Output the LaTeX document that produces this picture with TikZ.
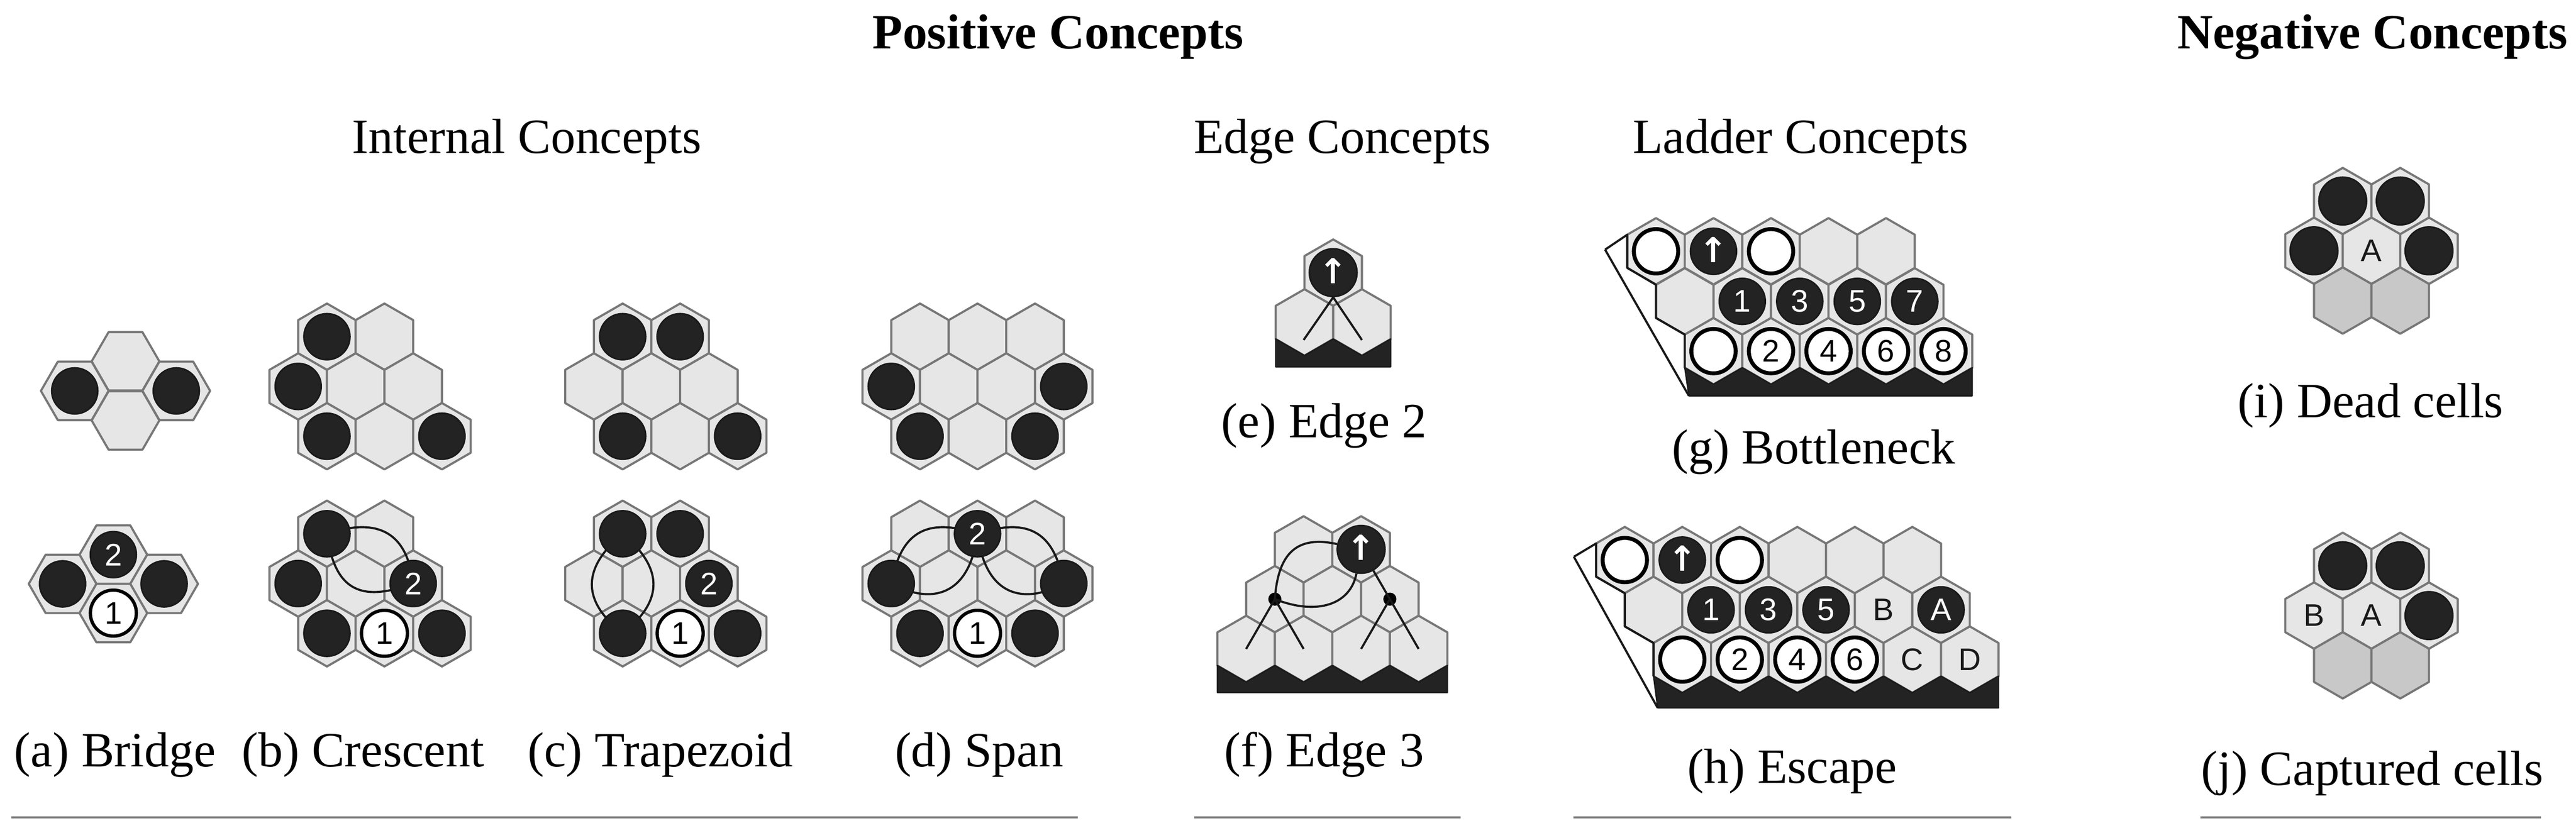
\documentclass[tikz,border=0pt]{standalone}
\usepackage{fontspec}
\setmainfont{Liberation Serif}
\newfontfamily\lsans{Liberation Sans}
\newfontfamily\djv{DejaVu Sans}
\usetikzlibrary{arrows.meta}
\definecolor{hexl}{HTML}{E6E6E6}
\definecolor{hexg}{HTML}{C8C8C8}
\definecolor{hexe}{HTML}{777777}
\definecolor{stone}{HTML}{232323}
\definecolor{stoneE}{HTML}{1A1A1A}
\tikzset{
 hexc/.style={fill=hexl,draw=hexe,line width=1.3pt,line join=round},
 hexd/.style={fill=hexg,draw=hexe,line width=1.3pt,line join=round},
 bs/.style={circle,fill=stone,draw=stoneE,line width=1pt,minimum size=28pt,inner sep=0pt,text=white,font=\lsans\fontsize{19}{19}\selectfont},
 ws/.style={bs,fill=white,draw=black,line width=2pt,text=black},
 lbs/.style={bs,minimum size=28pt},
 lws/.style={ws,minimum size=27pt,line width=2.4pt},
 lab/.style={inner sep=0pt,font=\lsans\fontsize{19}{19}\selectfont,text=black!90},
 dot/.style={circle,fill=black,minimum size=8pt,inner sep=0pt},
 link/.style={draw=black!90,line width=1.3pt},
 band/.style={fill=stone,draw=stoneE,line width=0.8pt,line join=round},
 edgeline/.style={draw=black!90,line width=1.3pt,line join=round},
 capt/.style={anchor=base,inner sep=0pt,font=\fontsize{30}{30}\selectfont},
 ttl/.style={capt,font=\bfseries\fontsize{30}{30}\selectfont},
 rule/.style={draw=hexe,line width=1.3pt},
 up/.style={font=\djv\bfseries\fontsize{21}{21}\selectfont}
}
\newcommand\hx[3][hexc]{\draw[#1,shift={(#2,#3)}] (0,-20.2)--(17.5,-10.1)--(17.5,10.1)--(0,20.2)--(-17.5,10.1)--(-17.5,-10.1)--cycle;}
\newcommand\hf[2]{\draw[hexc,shift={(#1,#2)}] (-20.6,0)--(-10.3,-17.8)--(10.3,-17.8)--(20.6,0)--(10.3,17.8)--(-10.3,17.8)--cycle;}
\begin{document}
\begin{tikzpicture}[x=1pt,y=-1pt]
\useasboundingbox (0,0) rectangle (1568,510);
% titles
\node[ttl] (tpos) at (644,29.5) {Positive Concepts};
\node[ttl] (tneg) at (1444,29.5) {Negative Concepts};
\node[capt] (tint) at (320.7,93.4) {Internal Concepts};
\node[capt] (tedg) at (817,93.4) {Edge Concepts};
\node[capt] (tlad) at (1096,93.4) {Ladder Concepts};
% rules
\draw[rule] (7,497.7)--(656,497.7);
\draw[rule] (727,497.7)--(889,497.7);
\draw[rule] (957.6,497.7)--(1224.4,497.7);
\draw[rule] (1339.5,497.7)--(1546.7,497.7);
% ---------- (a) Bridge
\hf{76.4}{220}\hf{45.5}{238}\hf{107.3}{238}\hf{76.4}{256}
\node[bs] (a1) at (45.5,238) {};
\node[bs] (a2) at (107.3,238) {};
\hf{69}{337.7}\hf{38.1}{355.5}\hf{99.9}{355.5}\hf{69}{373.3}
\node[bs] (a3) at (38.1,355.5) {};
\node[bs] (a4) at (99.9,355.5) {};
\node[bs] (a5) at (69,337.7) {2};
\node[ws] (a6) at (69,373.3) {1};
\node[capt] (capa) at (70,466.8) {(a) Bridge};
% ---------- (b) Crescent
\foreach \y in {205,325}{
 \hx{199}{\y}\hx{234}{\y}
 \hx{181.5}{\y+30.3}\hx{216.5}{\y+30.3}\hx{251.5}{\y+30.3}
 \hx{199}{\y+60.6}\hx{234}{\y+60.6}\hx{269}{\y+60.6}}
\node[bs] (b1) at (199,205) {};
\node[bs] (b2) at (181.5,235.3) {};
\node[bs] (b3) at (199,265.6) {};
\node[bs] (b4) at (269,265.6) {};
\draw[link] (199,325) .. controls (232,314) and (248,326) .. (251.5,355.3);
\draw[link] (199,325) .. controls (204,362) and (222,366) .. (251.5,355.3);
\node[bs] (b5) at (199,325) {};
\node[bs] (b6) at (181.5,355.3) {};
\node[bs] (b7) at (251.5,355.3) {2};
\node[bs] (b8) at (199,385.6) {};
\node[ws] (b9) at (234,385.6) {1};
\node[bs] (b10) at (269,385.6) {};
\node[capt] (capb) at (221,466.8) {(b) Crescent};
% ---------- (c) Trapezoid
\foreach \y in {205,325}{
 \hx{379}{\y}\hx{414}{\y}
 \hx{361.5}{\y+30.3}\hx{396.5}{\y+30.3}\hx{431.5}{\y+30.3}
 \hx{379}{\y+60.6}\hx{414}{\y+60.6}\hx{449}{\y+60.6}}
\node[bs] (c1) at (379,205) {};
\node[bs] (c2) at (414,205) {};
\node[bs] (c3) at (379,265.6) {};
\node[bs] (c4) at (449,265.6) {};
\draw[link] (379,325) .. controls (354,346) and (354,366) .. (379,385.6);
\draw[link] (379,325) .. controls (404,346) and (404,366) .. (379,385.6);
\node[bs] (c5) at (379,325) {};
\node[bs] (c6) at (414,325) {};
\node[bs] (c7) at (431.5,355.3) {2};
\node[bs] (c8) at (379,385.6) {};
\node[ws] (c9) at (414,385.6) {1};
\node[bs] (c10) at (449,385.6) {};
\node[capt] (capc) at (402,466.8) {(c) Trapezoid};
% ---------- (d) Span
\foreach \y in {205,325}{
 \hx{560}{\y}\hx{595}{\y}\hx{630}{\y}
 \hx{542.5}{\y+30.3}\hx{577.5}{\y+30.3}\hx{612.5}{\y+30.3}\hx{647.5}{\y+30.3}
 \hx{560}{\y+60.6}\hx{595}{\y+60.6}\hx{630}{\y+60.6}}
\node[bs] (d1) at (542.5,235.3) {};
\node[bs] (d2) at (647.5,235.3) {};
\node[bs] (d3) at (560,265.6) {};
\node[bs] (d4) at (630,265.6) {};
\draw[link] (595,325) .. controls (562,314) and (548,326) .. (542.5,355.3);
\draw[link] (595,325) .. controls (590,364) and (566,368) .. (542.5,355.3);
\draw[link] (595,325) .. controls (628,314) and (642,326) .. (647.5,355.3);
\draw[link] (595,325) .. controls (600,364) and (624,368) .. (647.5,355.3);
\node[bs] (d5) at (595,325) {2};
\node[bs] (d6) at (542.5,355.3) {};
\node[bs] (d7) at (647.5,355.3) {};
\node[bs] (d8) at (560,385.6) {};
\node[ws] (d9) at (595,385.6) {1};
\node[bs] (d10) at (630,385.6) {};
\node[capt] (capd) at (596,466.8) {(d) Span};
% ---------- (e) Edge 2
\hx{811.5}{166}\hx{794}{196.3}\hx{829}{196.3}
\fill[band] (776.5,206.4)--(794,216.5)--(811.5,206.4)--(829,216.5)--(846.5,206.4)--(846.5,223.4)--(776.5,223.4)--cycle;
\coordinate (e2a) at (793.5,207);
\coordinate (e2b) at (829,207);
\node[bs,minimum size=29pt] (e2s) at (811.5,166) {};
\draw[link] (e2s.south)--(e2a);
\draw[link] (e2s.south)--(e2b);
\node[up,text=white] (e2arr) at (811.5,165) {↑};
\node[capt] (cape) at (806,266.5) {(e) Edge 2};
% ---------- (f) Edge 3
\hx{793.5}{334.5}\hx{828.5}{334.5}
\hx{776}{364.8}\hx{811}{364.8}\hx{846}{364.8}
\hx{758.5}{395.1}\hx{793.5}{395.1}\hx{828.5}{395.1}\hx{863.5}{395.1}
\fill[band] (741,405.2)--(758.5,415.3)--(776,405.2)--(793.5,415.3)--(811,405.2)--(828.5,415.3)--(846,405.2)--(863.5,415.3)--(881,405.2)--(881,421.7)--(741,421.7)--cycle;
\node[bs,minimum size=29pt] (f3s) at (828.5,334.5) {};
\node[up,text=white] (f3arr) at (828.5,333.5) {↑};
\node[dot] (fd1) at (776,364.8) {};
\node[dot] (fd2) at (846,364.8) {};
\coordinate (f1) at (758.5,395.1);
\coordinate (f2) at (793.5,395.1);
\coordinate (f3) at (828.5,395.1);
\coordinate (f4) at (863.5,395.1);
\draw[link] (f3s) .. controls (790,326) and (778,336) .. (fd1.center);
\draw[link] (fd1.center) .. controls (802,375) and (822,368) .. (f3s);
\draw[link] (f3s)--(fd2.center);
\draw[link] (fd1.center)--(f1);
\draw[link] (fd1.center)--(f2);
\draw[link] (fd2.center)--(f3);
\draw[link] (fd2.center)--(f4);
\node[capt] (capf) at (806,466.8) {(f) Edge 3};
% ---------- (g) Bottleneck
\foreach \i in {0,...,4}{
 \hx{1008+35*\i}{153}\hx{1025.5+35*\i}{183.5}\hx{1043+35*\i}{213.8}}
\fill[band] (1028,241)--(1025.5,223.9)--(1043,234)--(1060.5,223.9)--(1078,234)--(1095.5,223.9)--(1113,234)--(1130.5,223.9)--(1148,234)--(1165.5,223.9)--(1183,234)--(1200.5,223.9)--(1200.5,241)--cycle;
\draw[edgeline] (977,152)--(990.5,142.9)--(990.5,163.1)--(1008,173.4)--(1008,193.6)--(1025.5,203.7)--(1025.5,223.9);
\draw[edgeline] (977,152)--(1028,241);
\node[lws] (g1) at (1008,153) {};
\node[lbs] (g2) at (1043,153) {};
\node[up,text=white] (g2arr) at (1043,152) {↑};
\node[lws] (g3) at (1078,153) {};
\node[lbs] (g4) at (1060.5,183.5) {1};
\node[lbs] (g5) at (1095.5,183.5) {3};
\node[lbs] (g6) at (1130.5,183.5) {5};
\node[lbs] (g7) at (1165.5,183.5) {7};
\node[lws] (g8) at (1043,213.8) {};
\node[lws] (g9) at (1078,213.8) {2};
\node[lws] (g10) at (1113,213.8) {4};
\node[lws] (g11) at (1148,213.8) {6};
\node[lws] (g12) at (1183,213.8) {8};
\node[capt] (capg) at (1104,282.5) {(g) Bottleneck};
% ---------- (h) Escape
\foreach \i in {0,...,5}{
 \hx{989+35*\i}{341}\hx{1006.5+35*\i}{371.3}\hx{1024+35*\i}{401.6}}
\fill[band] (1009,431)--(1006.5,411.7)--(1024,421.8)--(1041.5,411.7)--(1059,421.8)--(1076.5,411.7)--(1094,421.8)--(1111.5,411.7)--(1129,421.8)--(1146.5,411.7)--(1164,421.8)--(1181.5,411.7)--(1199,421.8)--(1216.5,411.7)--(1216.5,431)--cycle;
\draw[edgeline] (958,339)--(971.5,330.9)--(971.5,351.1)--(989,361.2)--(989,381.4)--(1006.5,391.5)--(1006.5,411.7);
\draw[edgeline] (958,339)--(1009,431);
\node[lws] (h1) at (989,341) {};
\node[lbs] (h2) at (1024,341) {};
\node[up,text=white] (h2arr) at (1024,340) {↑};
\node[lws] (h3) at (1059,341) {};
\node[lbs] (h4) at (1041.5,371.3) {1};
\node[lbs] (h5) at (1076.5,371.3) {3};
\node[lbs] (h6) at (1111.5,371.3) {5};
\node[lab] (hB) at (1146.5,371.3) {B};
\node[lbs] (hA) at (1181.5,371.3) {A};
\node[lws] (h7) at (1024,401.6) {};
\node[lws] (h8) at (1059,401.6) {2};
\node[lws] (h9) at (1094,401.6) {4};
\node[lws] (h10) at (1129,401.6) {6};
\node[lab] (hC) at (1164,401.6) {C};
\node[lab] (hD) at (1199,401.6) {D};
\node[capt] (caph) at (1091,476.7) {(h) Escape};
% ---------- (i) Dead cells
\hx{1426}{122.4}\hx{1461}{122.4}
\hx{1408.5}{152.7}\hx{1443.5}{152.7}\hx{1478.5}{152.7}
\hx[hexd]{1426}{183}\hx[hexd]{1461}{183}
\node[bs,minimum size=29pt] (i1) at (1426,122.4) {};
\node[bs,minimum size=29pt] (i2) at (1461,122.4) {};
\node[bs,minimum size=29pt] (i3) at (1408.5,152.7) {};
\node[lab] (iA) at (1443.5,152.7) {A};
\node[bs,minimum size=29pt] (i4) at (1478.5,152.7) {};
\node[capt] (capi) at (1443,254.3) {(i) Dead cells};
% ---------- (j) Captured cells
\hx{1426}{344.5}\hx{1461}{344.5}
\hx{1408.5}{374.8}\hx{1443.5}{374.8}\hx{1478.5}{374.8}
\hx[hexd]{1426}{405.1}\hx[hexd]{1461}{405.1}
\node[bs,minimum size=29pt] (j1) at (1426,344.5) {};
\node[bs,minimum size=29pt] (j2) at (1461,344.5) {};
\node[lab] (jB) at (1408.5,374.8) {B};
\node[lab] (jA) at (1443.5,374.8) {A};
\node[bs,minimum size=29pt] (j3) at (1478.5,374.8) {};
\node[capt] (capj) at (1444,478) {(j) Captured cells};
\end{tikzpicture}
\end{document}
